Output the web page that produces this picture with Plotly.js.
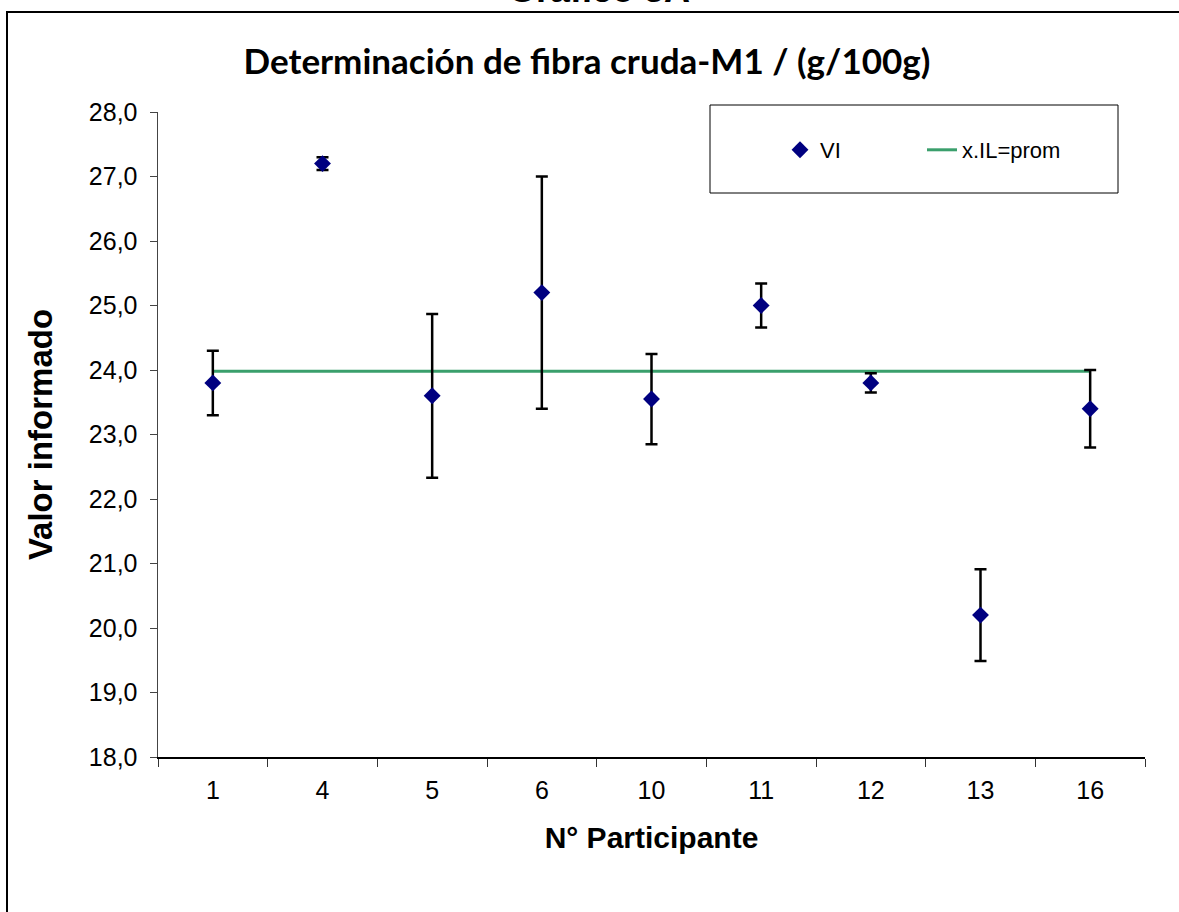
<!DOCTYPE html>
<html>
<head>
<meta charset="utf-8">
<script src="https://cdn.plot.ly/plotly-3.0.1.min.js"></script>
<style>
  html, body { margin: 0; padding: 0; background: #fff; }
  #chart { width: 1179px; height: 912px; }
</style>
</head>
<body>
<div id="chart"></div>
<script>
// Data
const participants = ['1', '4', '5', '6', '10', '11', '12', '13', '16'];
const reportedValues = [23.8, 27.2, 23.6, 25.2, 23.55, 25.0, 23.8, 20.2, 23.4];
const uncertainty = [0.5, 0.1, 1.27, 1.8, 0.7, 0.34, 0.15, 0.71, 0.6];
const meanLineX = ['1', '16'];
const meanValue = 23.98;
const meanLineY = [meanValue, meanValue];

const mainTitle = 'Determinación de fibra cruda-M1 / (g/100g)';
const topTitle = 'Gráfico 3A';
const xTitle = 'N° Participante';
const yTitle = 'Valor informado';
const seriesNames = ['VI', 'x.IL=prom'];

const W = 1179, H = 912;
const L = 158, R = 34, T = 112, B = 155;
const pw = W - L - R, ph = H - T - B;
const px = x => (x - L) / pw;
const py = y => (H - B - y) / ph;

const traces = [
  {
    type: 'scatter', mode: 'lines', name: seriesNames[1],
    x: meanLineX, y: meanLineY,
    line: { color: '#3a9f6c', width: 3 },
    legendrank: 2, hoverinfo: 'skip'
  },
  {
    type: 'scatter', mode: 'markers', name: seriesNames[0],
    x: participants, y: reportedValues,
    marker: { symbol: 'diamond', size: 13, color: '#000080' },
    error_y: { type: 'data', array: uncertainty, visible: true, color: '#000000', thickness: 2.5, width: 6 },
    legendrank: 1
  }
];

const ARIAL = 'Liberation Sans, Arial, sans-serif';
const axisFont = { family: ARIAL, size: 25, color: '#000' };

const layout = {
  width: W, height: H,
  margin: { l: L, r: R, t: T, b: B, autoexpand: false },
  paper_bgcolor: '#fff', plot_bgcolor: '#fff',
  separators: ',.',
  showlegend: true,
  title: {
    text: '<b>' + mainTitle + '</b>',
    x: 587 / W, xref: 'container', xanchor: 'center',
    y: 1 - 62 / H, yref: 'container', yanchor: 'middle',
    font: { family: 'Lato, Carlito, sans-serif', size: 35, color: '#000' }
  },
  xaxis: {
    type: 'category',
    categoryorder: 'array', categoryarray: participants,
    range: [-0.5, participants.length - 0.5],
    tickson: 'boundaries',
    ticks: 'outside', ticklen: 8, tickwidth: 1, tickcolor: '#333',
    showline: true, linecolor: '#000', linewidth: 2,
    showgrid: false, zeroline: false,
    tickfont: axisFont,
    ticklabelstandoff: 10,
    automargin: false,
    title: { text: '<b>' + xTitle + '</b>', standoff: 24,
      font: { family: ARIAL, size: 30, color: '#000' } }
  },
  yaxis: {
    range: [18, 28], dtick: 1, tick0: 18,
    tickformat: '.1f',
    ticks: 'outside', ticklen: 7, tickwidth: 1, tickcolor: '#444',
    showline: true, linecolor: '#444', linewidth: 1.5,
    showgrid: false, zeroline: false,
    tickfont: axisFont,
    ticklabelstandoff: 7,
    automargin: false,
    title: { text: '<b>' + yTitle + '</b>', standoff: 26,
      font: { family: ARIAL, size: 33, color: '#000' } }
  },
  legend: {
    orientation: 'h',
    x: px(780), xanchor: 'left',
    y: py(150), yanchor: 'middle',
    bgcolor: 'rgba(0,0,0,0)', borderwidth: 0,
    font: { family: ARIAL, size: 22, color: '#000' },
    entrywidth: 97,
    itemclick: false, itemdoubleclick: false
  },
  shapes: [
    // legend box
    { type: 'rect', xref: 'paper', yref: 'paper',
      x0: px(710), x1: px(1118), y0: py(193), y1: py(105),
      line: { color: '#000', width: 1 }, fillcolor: 'rgba(0,0,0,0)', layer: 'below' },
    // outer chart frame
    { type: 'rect', xref: 'paper', yref: 'paper',
      x0: px(7), x1: px(1200), y0: py(930), y1: py(12),
      line: { color: '#000', width: 2 }, fillcolor: 'rgba(0,0,0,0)', layer: 'below' }
  ],
  annotations: [
    { text: '<b>' + topTitle + '</b>', xref: 'paper', yref: 'paper',
      x: px(599), y: 1, xanchor: 'center', yanchor: 'bottom', yshift: 100,
      showarrow: false,
      font: { family: ARIAL, size: 36, color: '#000' } }
  ]
};

Plotly.newPlot('chart', traces, layout, { staticPlot: true, displayModeBar: false });
</script>
</body>
</html>
